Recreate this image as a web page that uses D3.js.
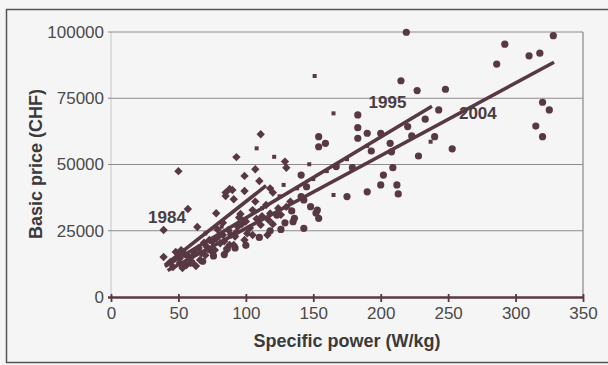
<!DOCTYPE html>
<html><head><meta charset="utf-8">
<script src="https://cdn.jsdelivr.net/npm/d3@7"></script>
<style>
html,body{margin:0;padding:0;background:#f4f2f3;}
svg{display:block;}
</style></head>
<body>
<svg id="c" width="608" height="365"></svg>
<script>
// ---- data ----
const xTicks = [0, 50, 100, 150, 200, 250, 300, 350];
const yTicks = [0, 25000, 50000, 75000, 100000];
const xTitle = "Specific power (W/kg)";
const yTitle = "Basic price (CHF)";
const years = ["1984", "1995", "2004"];

// 1984 models (diamonds) [W/kg, CHF]
const p1984 = [
 [39,25300],[50,47500],[39,15100],[57,33200],[64,26400],[78,31600],[93,52800],[99,45700],[99,40000],
 [88,40800],[85,39400],[90,40400],[91,36900],[85,38100],[107,48200],[110,43800],[111,61400],[107,36000],
 [118,41000],[120,39400],[129,51100],[130,48800],
 [51,12800],[56,12100],[66,14000],[48,17000],[52,17700],[51,14600],[59,12800],[61,15800],[65,18500],
 [71,19000],[75,20900],[78,22100],[83,23400],[87,25300],[86,18400],[88,19600],[92,22800],[94,26500],
 [81,20300],[77,17700],[44,13200],[46,11300],[53,10900],[63,11700],[70,15800],[75,17000],[99,21500],
 [103,26000],[96,31300],[105,32800],[115,34700],[86,17700],[91,19600],[101,24000],[105,23400],[116,23400],[111,27200],
 [58,15000],[62,17000],[67,16500],[72,18000],[73,21500],[80,23000],[84,21000],[89,23500],[93,24500],
 [97,27500],[100,28500],[108,29500],[112,30500],[118,31500],[124,33500],[130,34000],[133,36000],[120,27500],
 [126,31000],[117,29000],[55,16000],[69,20500],[79,25500],[83,28000],[95,30000]
];
// 1995 models (small squares)
const p1995 = [
 [151,83400],[165,69300],[147,50100],[237,58600],[165,38500],[108,56100],[121,52900],[128,42300],
 [70,24000],[82,26500],[97,29500],[112,33500],[125,38000],[138,41000],[150,44500],[175,52000],[190,57000],[160,47500]
];
// 2004 models (circles)
const p2004 = [
 [219,99900],[286,87900],[292,95400],[310,91000],[318,92000],[328,98600],[320,73500],[325,70600],
 [315,64500],[320,60500],[215,81600],[227,77900],[248,78400],[243,70600],[233,67100],[220,64300],
 [223,60800],[240,60500],[228,53200],[253,55900],[209,48800],[202,46000],[207,58000],[208,54800],
 [200,61800],[190,61800],[193,55100],[183,68700],[183,63900],[183,59900],[179,48800],[167,49200],
 [154,60500],[154,56700],[159,58000],[212,42300],[213,38900],[200,42300],[190,39700],[175,37900],
 [143,36600],[148,34100],[153,32800],[154,29700],[152,31700],[143,25900],[145,41600],[141,37900],
 [141,46000],[136,29700],[135,28400],[129,28000],[123,30900],
 [60,13000],[68,13500],[76,15500],[84,16000],[92,18500],[100,19500],[110,22500],[118,25000],[126,25500],[134,32500]
];
// regression lines (endpoints)
const fit1984 = [[40,12000],[115,42000]];
const fit1995 = [[40,11500],[238,72000]];
const fit2004 = [[42,10000],[328.5,88600]];
// label anchors [W/kg, CHF]
const labelPos = [[27.5,27800],[191,71500],[258,67000]];

// ---- drawing ----
const svg = d3.select("#c");
const ink = "#573843";
const x = d3.scaleLinear().domain([0,350]).range([111,583]);
const y = d3.scaleLinear().domain([0,100000]).range([297,32]);

// page frame
svg.append("rect").attr("x",0).attr("y",0).attr("width",608).attr("height",365).attr("fill","#f6f5f6");
svg.append("path").attr("d","M608,9.5 H6.5 V362.5 H608").attr("fill","none").attr("stroke","#555").attr("stroke-width",1.5);

// plot box and grid
const g = svg.append("g");
g.append("line").attr("x1",x(0)).attr("x2",x(0)).attr("y1",y(100000)).attr("y2",y(0)).attr("stroke","#c8c6c8").attr("stroke-width",1);
g.append("line").attr("x1",x(350)).attr("x2",x(350)).attr("y1",y(100000)).attr("y2",y(0)).attr("stroke","#8a8688").attr("stroke-width",1.2);
g.selectAll(".grid").data(yTicks.filter(d=>d>0)).join("line")
  .attr("x1",x(0)-3).attr("x2",x(350)).attr("y1",d=>y(d)).attr("y2",d=>y(d))
  .attr("stroke","#8e8a8c").attr("stroke-width",1);

// y axis labels
const yAxis = d3.axisLeft(y).tickValues(yTicks).tickSize(0).tickPadding(7).tickFormat(d3.format("d"));
const ya = svg.append("g").attr("transform",`translate(${x(0)},0)`).call(yAxis);
ya.select(".domain").remove();
ya.selectAll("text").attr("font-family","Liberation Sans, Arial, sans-serif").attr("font-size",17).attr("fill","#4a4a4a");

// x axis
const xAxis = d3.axisBottom(x).tickValues(xTicks).tickSize(5).tickPadding(5).tickSizeOuter(0);
const xa = svg.append("g").attr("transform",`translate(0,${y(0)})`).call(xAxis);
xa.select(".domain").attr("stroke",ink).attr("stroke-width",2.6).attr("d",`M${x(0)-3},0.5H${x(350)}`);
xa.selectAll(".tick line").attr("stroke",ink).attr("stroke-width",1.8).attr("y1",-3);
xa.selectAll("text").attr("font-family","Liberation Sans, Arial, sans-serif").attr("font-size",17).attr("fill","#4a4a4a");

// axis titles
svg.append("text").attr("x",347).attr("y",347).attr("text-anchor","middle")
  .attr("font-family","Liberation Sans, Arial, sans-serif").attr("font-weight","bold").attr("font-size",18).attr("fill","#3a3a3a").text(xTitle);
svg.append("text").attr("transform","translate(42,164) rotate(-90)").attr("text-anchor","middle")
  .attr("font-family","Liberation Sans, Arial, sans-serif").attr("font-weight","bold").attr("font-size",18).attr("fill","#3a3a3a").text(yTitle);

// points
const pts = svg.append("g").attr("fill",ink);
pts.selectAll(".d84").data(p1984).join("path")
  .attr("d",d=>{const cx=x(d[0]), cy=y(d[1]), r=4.2; return `M${cx},${cy-r}L${cx+r},${cy}L${cx},${cy+r}L${cx-r},${cy}Z`;});
pts.selectAll(".c04").data(p2004).join("circle")
  .attr("cx",d=>x(d[0])).attr("cy",d=>y(d[1])).attr("r",3.6);
pts.selectAll(".s95").data(p1995).join("rect")
  .attr("x",d=>x(d[0])-2).attr("y",d=>y(d[1])-2).attr("width",4).attr("height",4);

// regression lines
const line = d3.line().x(d=>x(d[0])).y(d=>y(d[1]));
[fit1984, fit1995, fit2004].forEach(f=>{
  svg.append("path").attr("d",line(f)).attr("fill","none").attr("stroke",ink).attr("stroke-width",3.6).attr("stroke-linecap","butt");
});

// year labels
svg.selectAll(".yl").data(years).join("text")
  .attr("x",(d,i)=>x(labelPos[i][0])).attr("y",(d,i)=>y(labelPos[i][1]))
  .attr("font-family","Liberation Sans, Arial, sans-serif").attr("font-weight","bold").attr("font-size",17).attr("fill","#4a3d42")
  .text(d=>d);
</script>
</body></html>
